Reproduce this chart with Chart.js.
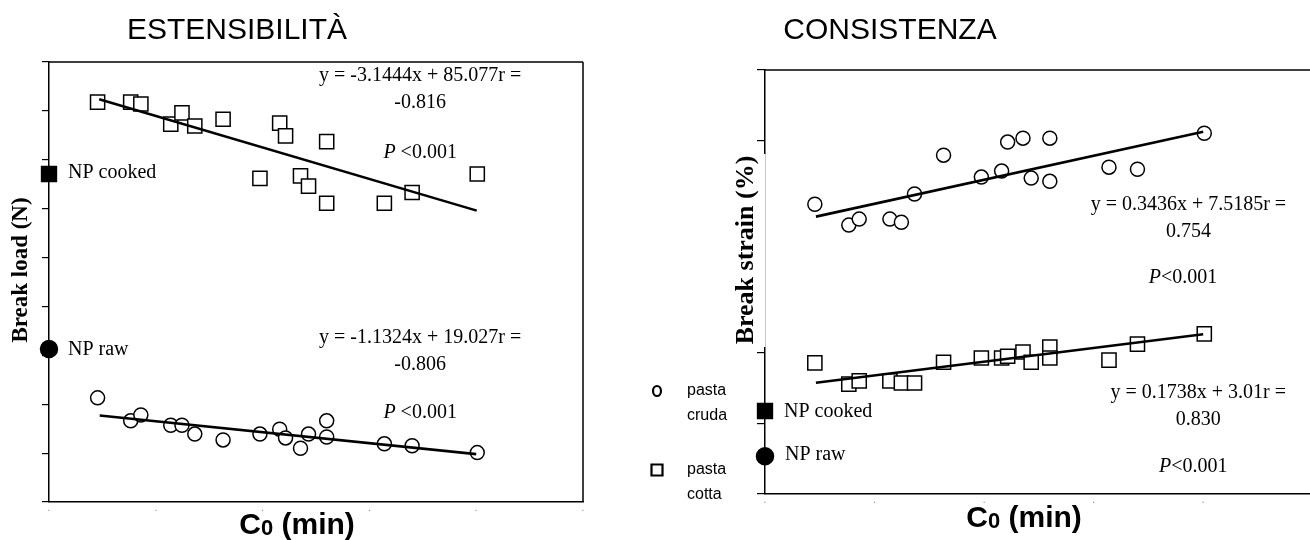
<!DOCTYPE html>
<html>
<head>
<meta charset="utf-8">
<script src="https://cdn.jsdelivr.net/npm/chart.js@4.4.1/dist/chart.umd.min.js"></script>
<style>
	html, body { margin: 0; padding: 0; background: #fff; }
	#wrap { position: relative; width: 1310px; height: 540px; overflow: hidden; }
	canvas { position: absolute; top: 0; }
	#estensibilita { left: 0; }
	#consistenza { left: 600px; }
</style>
</head>
<body>
<div id="wrap">
	<canvas id="estensibilita" width="600" height="540"></canvas>
	<canvas id="consistenza" width="710" height="540"></canvas>
</div>
<script>
// C0 (min) dei campioni, uguale per tutte le serie
let cookTime = [0.91, 1.53, 1.72, 2.28, 2.49, 2.73, 3.26, 3.95, 4.32, 4.43, 4.71, 4.86, 5.20, 5.20, 6.28, 6.80, 8.02];

// ESTENSIBILITÀ - break load (N)
let loadCotta = [81.8, 81.8, 81.4, 77.3, 79.6, 76.9, 78.3, 66.2, 77.5, 74.9, 66.7, 64.6, 73.7, 61.1, 61.1, 63.3, 67.1];
let loadCruda = [21.3, 16.6, 17.8, 15.7, 15.7, 13.9, 12.7, 13.9, 14.9, 13.1, 11.0, 13.9, 16.6, 13.3, 11.9, 11.5, 10.1];
let loadFitCotta = [[0.94, 82.4], [8.01, 59.6]];
let loadFitCruda = [[0.95, 17.7], [8.0, 9.8]];
let loadNP = [67.1, 31.3];      // NP cooked, NP raw

// CONSISTENZA - break strain (%)
let strainCruda = [8.20, 7.61, 7.78, 7.78, 7.69, 8.49, 9.59, 8.97, 9.14, 9.96, 10.07, 8.94, 10.07, 8.85, 9.25, 9.19, 10.21];
let strainCotta = [3.71, 3.11, 3.20, 3.20, 3.14, 3.14, 3.73, 3.85, 3.85, 3.90, 4.02, 3.73, 4.16, 3.85, 3.79, 4.24, 4.53];
let strainFitCruda = [[0.93, 7.85], [8.0, 10.25]];
let strainFitCotta = [[0.93, 3.15], [8.0, 4.52]];
let strainNP = [2.35, 1.07];    // NP cooked, NP raw

// assi (senza etichette numeriche)
let timeAxis = [0, 10, 2];
let loadAxis = [0, 90, 10];
let strainAxis = [0, 12, 2];

const SERIF = '"Liberation Serif", "Times New Roman", serif';
const SANS = '"Liberation Sans", Arial, sans-serif';

function pts(xs, ys) {
	return xs.map((x, i) => ({ x: x, y: ys[i] }));
}

function fitLine(pairs) {
	return {
		data        : pairs.map(p => ({ x: p[0], y: p[1] })),
		showLine    : true,
		borderColor : '#000',
		borderWidth : 2.6,
		pointRadius : 0
	};
}

function markers(data, style, radius, fill) {
	return {
		data            : data,
		pointStyle      : style,
		pointRadius     : radius,
		backgroundColor : fill,
		borderColor     : '#000',
		borderWidth     : 1.5,
		clip            : false
	};
}

function drawText(chart, item) {
	const ctx = chart.ctx;
	let x = item.x, y = item.y;
	if (item.data) {
		x = chart.scales.x.getPixelForValue(item.x);
		y = chart.scales.y.getPixelForValue(item.y);
	}
	const parts = item.parts || [{ t: item.text, font: item.font }];
	ctx.save();
	ctx.fillStyle = '#000';
	ctx.textAlign = 'left';
	ctx.textBaseline = item.baseline || 'middle';
	ctx.translate(x, y);
	if (item.rotate) ctx.rotate(item.rotate);
	const widths = parts.map(p => { ctx.font = p.font; return ctx.measureText(p.t).width; });
	const total = widths.reduce((s, w) => s + w, 0);
	let cx = item.align === 'left' ? 0 : -total / 2;
	parts.forEach((p, i) => {
		ctx.font = p.font;
		ctx.fillText(p.t, cx, p.dy || 0);
		cx += widths[i];
	});
	ctx.restore();
}

const decor = {
	id : 'decor',
	beforeDatasetsDraw(chart, args, opts) {
		const ctx = chart.ctx, a = chart.chartArea;
		ctx.save();
		ctx.strokeStyle = '#000';
		ctx.lineWidth = 1.5;
		ctx.beginPath();
		if ((opts.frame || []).includes('top')) { ctx.moveTo(a.left, a.top); ctx.lineTo(a.right, a.top); }
		if ((opts.frame || []).includes('right')) { ctx.moveTo(a.right, a.top); ctx.lineTo(a.right, a.bottom); }
		ctx.stroke();
		if (opts.labelBox) {
			let b = opts.labelBox;
			ctx.fillStyle = '#fff';
			ctx.fillRect(b[0], b[1], a.left - b[0] + 1.5, b[2] - b[1]);
			ctx.strokeStyle = '#c4c4c4';
			ctx.lineWidth = 1;
			ctx.beginPath();
			ctx.moveTo(a.left + 0.5, b[1]);
			ctx.lineTo(a.left + 0.5, b[2]);
			ctx.stroke();
		}
		ctx.restore();
	},
	afterDraw(chart, args, opts) {
		const ctx = chart.ctx;
		(opts.legend || []).forEach(m => {
			ctx.save();
			ctx.strokeStyle = '#000';
			ctx.lineWidth = 2.2;
			ctx.beginPath();
			if (m.shape === 'circle') ctx.ellipse(m.x, m.y, 4, 5, 0, 0, Math.PI * 2);
			else ctx.rect(m.x - 5.5, m.y - 5.5, 11, 11);
			ctx.stroke();
			ctx.restore();
		});
		(opts.texts || []).forEach(t => drawText(chart, t));
	}
};

function pValue(x, y, gap) {
	return {
		data  : true, x: x, y: y,
		parts : [
			{ t: 'P', font: 'italic 20px ' + SERIF },
			{ t: gap + '<0.001', font: '20px ' + SERIF }
		]
	};
}

function cTitle(x, y) {
	return {
		x: x, y: y, baseline: 'alphabetic',
		parts : [
			{ t: 'C', font: 'bold 30px ' + SANS },
			{ t: '0', font: 'bold 22px ' + SANS, dy: 1 },
			{ t: ' (min)', font: 'bold 30px ' + SANS }
		]
	};
}

function baseOptions(yAxis, yWidth, xHeight, padding, tickLen, decorOpts, xMax) {
	return {
		responsive : false,
		animation  : false,
		events     : [],
		layout     : { padding: padding, autoPadding: false },
		plugins    : { legend: { display: false }, tooltip: { enabled: false }, decor: decorOpts },
		scales     : {
			x : {
				type   : 'linear',
				min    : timeAxis[0],
				max    : xMax,
				grid   : { display: false, drawTicks: false },
				border : { display: true, color: '#000', width: 1.5 },
				ticks  : {
					stepSize      : timeAxis[2],
					includeBounds : false,
					padding       : 0,
					color         : '#8a8a8a',
					font          : { size: 10 },
					maxRotation   : 0,
					callback      : () => '.'
				},
				afterFit : s => { s.height = xHeight; }
			},
			y : {
				type   : 'linear',
				min    : yAxis[0],
				max    : yAxis[1],
				grid   : { display: true, drawOnChartArea: false, drawTicks: true, tickLength: tickLen, color: '#000', lineWidth: 1.2 },
				border : { display: true, color: '#000', width: 1.5 },
				ticks  : { stepSize: yAxis[2], display: false },
				afterFit : s => { s.width = yWidth; }
			}
		}
	};
}

let chartEstensibilita = new Chart(document.getElementById('estensibilita').getContext('2d'), {
	type : 'scatter',
	data : {
		datasets : [
			fitLine(loadFitCotta),
			fitLine(loadFitCruda),
			markers(pts(cookTime, loadCotta), 'rect', 10, '#fff'),
			markers(pts(cookTime, loadCruda), 'circle', 7, '#fff'),
			markers([{ x: 0, y: loadNP[0] }], 'rect', 10.5, '#000'),
			markers([{ x: 0, y: loadNP[1] }], 'circle', 8.5, '#000')
		]
	},
	plugins : [decor],
	options : baseOptions(loadAxis, 49, 38, { top: 62, right: 17, bottom: 0, left: 0 }, 7, {
		frame : ['top', 'right'],
		texts : [
			{ text: 'ESTENSIBILITÀ', font: '30px ' + SANS, x: 237, y: 39, baseline: 'alphabetic' },
			{ text: 'NP cooked', font: '20px ' + SERIF, x: 68, y: 173, align: 'left' },
			{ text: 'NP raw', font: '20px ' + SERIF, x: 68, y: 350, align: 'left' },
			{ text: 'Break load (N)', font: 'bold 23px ' + SERIF, x: 21, y: 270, rotate: -Math.PI / 2 },
			cTitle(297, 534),
			{ data: true, text: 'y = -3.1444x + 85.077r =', font: '20px ' + SERIF, x: 6.95, y: 87.1 },
			{ data: true, text: '-0.816', font: '20px ' + SERIF, x: 6.95, y: 81.6 },
			pValue(6.95, 71.4, ' '),
			{ data: true, text: 'y = -1.1324x + 19.027r =', font: '20px ' + SERIF, x: 6.95, y: 33.5 },
			{ data: true, text: '-0.806', font: '20px ' + SERIF, x: 6.95, y: 28.0 },
			pValue(6.95, 18.2, ' ')
		]
	}, timeAxis[1])
});

let chartConsistenza = new Chart(document.getElementById('consistenza').getContext('2d'), {
	type : 'scatter',
	data : {
		datasets : [
			fitLine(strainFitCruda),
			fitLine(strainFitCotta),
			markers(pts(cookTime, strainCruda), 'circle', 7, '#fff'),
			markers(pts(cookTime, strainCotta), 'rect', 10, '#fff'),
			markers([{ x: 0, y: strainNP[0] }], 'rect', 10.5, '#000'),
			markers([{ x: 0, y: strainNP[1] }], 'circle', 8.5, '#000')
		]
	},
	plugins : [decor],
	options : baseOptions(strainAxis, 165, 46, { top: 70, right: 0, bottom: 0, left: 0 }, 8, {
		frame    : ['top'],
		labelBox : [133, 154, 347],
		legend   : [{ shape: 'circle', x: 57, y: 391 }, { shape: 'square', x: 57, y: 470 }],
		texts    : [
			{ text: 'CONSISTENZA', font: '30px ' + SANS, x: 290, y: 39, baseline: 'alphabetic' },
			{ text: 'pasta', font: '16px ' + SANS, x: 87, y: 391, align: 'left' },
			{ text: 'cruda', font: '16px ' + SANS, x: 87, y: 416, align: 'left' },
			{ text: 'pasta', font: '16px ' + SANS, x: 87, y: 470, align: 'left' },
			{ text: 'cotta', font: '16px ' + SANS, x: 87, y: 495, align: 'left' },
			{ text: 'NP cooked', font: '20px ' + SERIF, x: 184, y: 412, align: 'left' },
			{ text: 'NP raw', font: '20px ' + SERIF, x: 185, y: 455, align: 'left' },
			{ text: 'Break strain (%)', font: 'bold 26px ' + SERIF, x: 146, y: 250, rotate: -Math.PI / 2 },
			cTitle(424, 527),
			{ data: true, text: 'y = 0.3436x + 7.5185r =', font: '20px ' + SERIF, x: 7.73, y: 8.18 },
			{ data: true, text: '0.754', font: '20px ' + SERIF, x: 7.73, y: 7.41 },
			pValue(7.63, 6.11, ''),
			{ data: true, text: 'y = 0.1738x + 3.01r =', font: '20px ' + SERIF, x: 7.91, y: 2.86 },
			{ data: true, text: '0.830', font: '20px ' + SERIF, x: 7.91, y: 2.09 },
			pValue(7.82, 0.76, '')
		]
	}, 9.95)
});
</script>
</body>
</html>
